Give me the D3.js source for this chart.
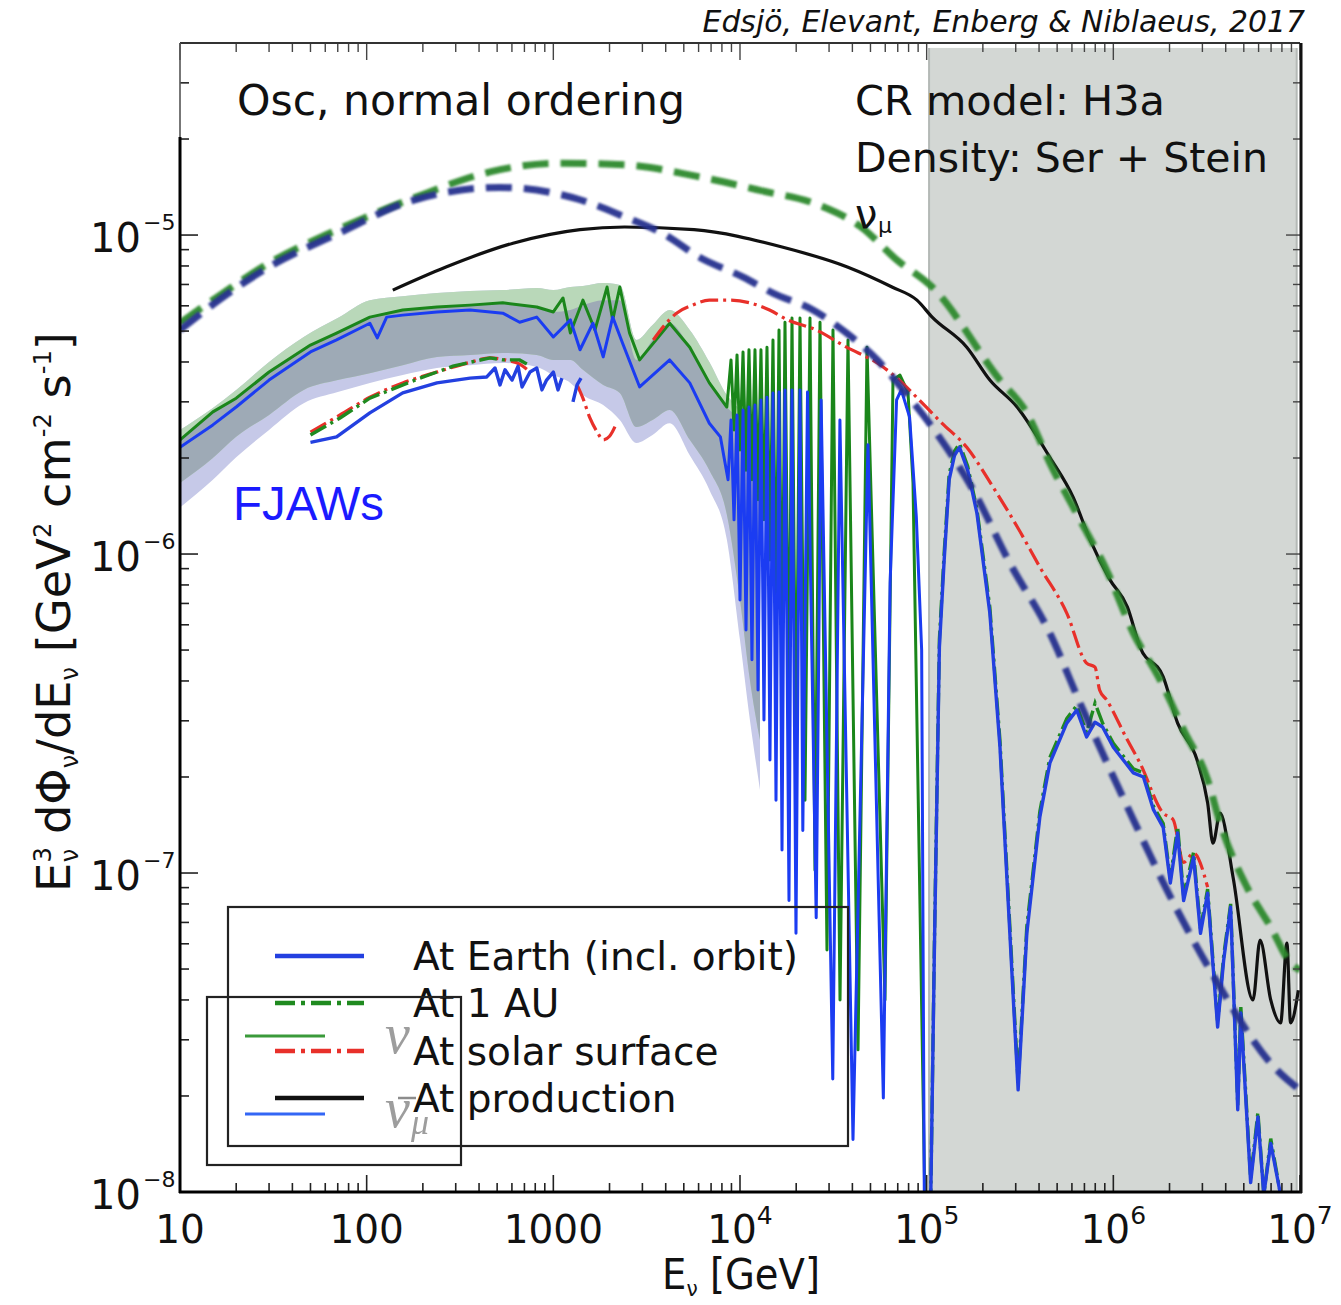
<!DOCTYPE html>
<html><head><meta charset="utf-8">
<script src="https://cdn.jsdelivr.net/npm/d3@7"></script>
<style>body{margin:0;background:#fff}svg{display:block}</style>
</head><body>
<svg id="chart" width="1341" height="1305"></svg>
<script>
// ---------------- DATA (E in GeV, flux E^3 dPhi/dE in GeV^2 cm^-2 s^-1) ----------------
// Reference production curves (thick dashed): nu_mu (green) and nu_mu-bar (navy)
const refNuMuE = [10, 17, 30, 70, 181, 464, 1060, 2410, 5810, 1.28e4, 2.66e4, 4.45e4, 6.93e4, 1.07e5, 2.47e5, 3.44e5, 4.57e5, 6.63e5, 9.2e5, 1.28e6, 1.78e6, 2.38e6, 3.2e6, 3.73e6, 5.2e6, 6.97e6, 8.9e6, 1e7];
const refNuMuF = [5.3e-6, 6.58e-6, 8.17e-6, 1.04e-5, 1.31e-5, 1.58e-5, 1.68e-5, 1.66e-5, 1.53e-5, 1.38e-5, 1.24e-5, 1.06e-5, 8.35e-6, 6.87e-6, 3.51e-6, 2.77e-6, 1.93e-6, 1.28e-6, 8.9e-7, 5.65e-7, 4.03e-7, 2.81e-7, 1.96e-7, 1.435e-7, 9.03e-8, 6.77e-8, 5.22e-8, 4.96e-8];
const refNuMuBarE = [10, 17, 30, 70, 181, 518, 1390, 2410, 3870, 6060, 1.04e4, 1.5e4, 2.46e4, 3.72e4, 5.44e4, 7.47e4, 1.07e5, 1.77e5, 2.79e5, 4.57e5, 6.63e5, 1.28e6, 1.94e6, 3.3e6, 7.53e6, 1e7];
const refNuMuBarF = [5.04e-6, 6.39e-6, 7.94e-6, 1.01e-5, 1.29e-5, 1.41e-5, 1.29e-5, 1.14e-5, 1.01e-5, 8.52e-6, 7.38e-6, 6.58e-6, 5.82e-6, 4.93e-6, 4.06e-6, 3.27e-6, 2.5e-6, 1.59e-6, 9.36e-7, 5.65e-7, 3.41e-7, 1.47e-7, 8.83e-8, 4.96e-8, 2.41e-8, 2.09e-8];

// At production (black)
const prodE = [138, 266, 608, 1390, 2410, 5670, 1.68e4, 3.76e4, 6.52e4, 8.87e4, 1.07e5, 1.64e5, 2.18e5, 3.05e5, 4.57e5, 6.08e5, 7.5e5, 9.6e5, 1.19e6, 1.39e6, 1.85e6, 2.21e6, 2.81e6, 3.2e6, 3.42e6, 3.73e6, 4.38e6, 5.6e6, 6.11e6, 6.97e6, 7.87e6, 8.51e6, 8.9e6, 9.8e6];
const prodF = [6.72e-6, 7.94e-6, 9.43e-6, 1.04e-5, 1.06e-5, 1.04e-5, 9.17e-6, 7.94e-6, 6.87e-6, 6.25e-6, 5.53e-6, 4.45e-6, 3.51e-6, 2.89e-6, 2.01e-6, 1.51e-6, 1.11e-6, 8.3e-7, 6.82e-7, 5.11e-7, 4.12e-7, 2.95e-7, 2.26e-7, 1.66e-7, 1.24e-7, 1.54e-7, 9.7e-8, 4.0e-8, 6.16e-8, 4.0e-8, 3.39e-8, 6.03e-8, 3.39e-8, 4.29e-8];

// At solar surface (red dash-dot); null = hidden
const surfE = [50, 72, 104, 156, 238, 358, 458, 551, 660, 750, 1000, 1340, 1440, 1570, 1720, 1850, 2000, 2180, 2800, 3430, 3950, 4570, 5560, 6850, 8830, 1.13e4, 1.44e4, 1.8e4, 2.56e4, 3.72e4, 5.44e4, 7.14e4, 9.12e4, 1.21e5, 1.64e5, 2.27e5, 3.05e5, 4.04e5, 5.63e5, 7.19e5, 7.98e5, 8.44e5, 9.2e5, 1.19e6, 1.39e6, 1.85e6, 2.09e6, 2.38e6, 2.69e6, 3.2e6];
const surfF = [2.41e-6, 2.73e-6, 3.10e-6, 3.44e-6, 3.72e-6, 3.99e-6, 4.12e-6, 4.06e-6, 3.94e-6, 3.72e-6, null, 3.39e-6, 3.08e-6, 2.67e-6, 2.41e-6, 2.28e-6, 2.34e-6, 2.57e-6, null, 4.69e-6, 5.22e-6, 5.69e-6, 6.03e-6, 6.25e-6, 6.25e-6, 6.13e-6, 5.82e-6, 5.42e-6, 5.04e-6, 4.45e-6, 3.97e-6, 3.51e-6, 3.04e-6, 2.57e-6, 2.16e-6, 1.62e-6, 1.22e-6, 9.1e-7, 6.53e-7, 4.55e-7, 4.42e-7, 3.75e-7, 3.49e-7, 2.61e-7, 2.21e-7, 1.54e-7, 1.47e-7, 1.08e-7, 1.155e-7, 9.03e-8];

// At 1 AU (green dash-dot)
const auE = [50, 72, 104, 193, 290, 358, 458, 536, 660, 723, 5e4, 1.05e5, 1.1e5, 1.17e5, 1.24e5, 1.32e5, 1.41e5, 1.5e5, 1.66e5, 1.86e5, 2.18e5, 2.47e5, 2.79e5, 3.09e5, 3.44e5, 4.04e5, 4.57e5, 5.63e5, 6.37e5, 7.19e5, 7.98e5, 8.76e5, 1e6, 1.28e6, 1.45e6, 1.64e6, 1.85e6, 2.02e6, 2.21e6, 2.38e6, 2.69e6, 2.93e6, 3.2e6, 3.62e6, 3.9e6, 4.25e6, 4.64e6, 4.82e6, 5.44e6, 5.95e6, 6.4e6, 6.97e6, 7.87e6];
const auF = [2.36e-6, 2.67e-6, 3.08e-6, 3.56e-6, 3.88e-6, 3.99e-6, 4.12e-6, 4.06e-6, 4.06e-6, 3.94e-6, null, 9e-9, 6.0e-8, 5.4e-7, 1.0e-6, 1.78e-6, 2.1e-6, 2.22e-6, 1.88e-6, 1.38e-6, 6.8e-7, 2.6e-7, 6.8e-8, 2.2e-8, 6.8e-8, 1.56e-7, 2.3e-7, 3.05e-7, 3.35e-7, 2.75e-7, 3.41e-7, 2.95e-7, 2.55e-7, 2.12e-7, 2.06e-7, 1.62e-7, 1.43e-7, 9.6e-8, 1.4e-7, 8.5e-8, 1.16e-7, 6.7e-8, 8.9e-8, 3.4e-8, 5.5e-8, 8.0e-8, 1.87e-8, 3.8e-8, 1.1e-8, 1.78e-8, 9.8e-9, 1.47e-8, 9.8e-9];

// At Earth incl. orbit (blue solid)
const earthE = [50, 69, 104, 156, 238, 358, 440, 487, 518, 551, 601, 647, 680, 750, 815, 869, 920, 1000, 1059, 1112, 1200, 1274, 1340, 1407, 5e4, 1.05e5, 1.1e5, 1.17e5, 1.24e5, 1.32e5, 1.41e5, 1.5e5, 1.66e5, 1.86e5, 2.18e5, 2.47e5, 2.79e5, 3.09e5, 3.44e5, 4.04e5, 4.57e5, 5.63e5, 6.37e5, 7.19e5, 7.98e5, 8.76e5, 1e6, 1.28e6, 1.45e6, 1.64e6, 1.85e6, 2.02e6, 2.21e6, 2.38e6, 2.69e6, 2.93e6, 3.2e6, 3.62e6, 3.9e6, 4.25e6, 4.64e6, 4.82e6, 5.44e6, 5.95e6, 6.4e6, 6.97e6, 7.87e6];
const earthF = [2.24e-6, 2.33e-6, 2.77e-6, 3.2e-6, 3.44e-6, 3.56e-6, 3.59e-6, 3.83e-6, 3.39e-6, 3.78e-6, 3.51e-6, 3.88e-6, 3.34e-6, 3.72e-6, 3.83e-6, 3.27e-6, 3.51e-6, 3.72e-6, 3.27e-6, 3.56e-6, null, 3.0e-6, 3.39e-6, 3.56e-6, null, 9e-9, 5.74e-8, 5.11e-7, 9.5e-7, 1.71e-6, 2.04e-6, 2.16e-6, 1.83e-6, 1.34e-6, 6.53e-7, 2.48e-7, 6.47e-8, 2.09e-8, 6.47e-8, 1.5e-7, 2.21e-7, 2.95e-7, 3.24e-7, 2.67e-7, 2.97e-7, 2.87e-7, 2.48e-7, 2.06e-7, 2.0e-7, 1.58e-7, 1.39e-7, 9.3e-8, 1.335e-7, 8.2e-8, 1.12e-7, 6.47e-8, 8.65e-8, 3.29e-8, 5.33e-8, 7.82e-8, 1.81e-8, 3.64e-8, 1.07e-8, 1.72e-8, 9.8e-9, 1.42e-8, 9.8e-9];

// FJAWs: nu_mu (green) and nu_mu-bar (blue) at Earth
const fjNuE = [10, 15, 20, 30, 50, 69, 104, 156, 238, 358, 536, 815, 1000, 1127, 1234, 1440, 1672, 1940, 2080, 2270, 2560, 2900, 4200, 5380, 6850, 8500, 8950, 9290, 9640, 1.0e4, 1.038e4, 1.077e4, 1.117e4, 1.159e4, 1.203e4, 1.249e4, 1.295e4, 1.344e4, 1.395e4, 1.447e4, 1.502e4, 1.559e4, 1.618e4, 1.679e4, 1.742e4, 1.83e4, 1.899e4, 1.995e4, 2.096e4, 2.229e4, 2.371e4, 2.522e4, 2.683e4, 2.924e4, 3.149e4, 3.434e4, 3.789e4, 4.287e4, 4.79e4, 5.98e4, 6.6e4, 7.195e4, 7.94e4, 8.45e4, 9.79e4];
const fjNuF = [2.28e-6, 2.79e-6, 3.08e-6, 3.72e-6, 4.52e-6, 4.93e-6, 5.53e-6, 5.82e-6, 5.95e-6, 6.03e-6, 6.13e-6, 5.95e-6, 5.74e-6, 6.35e-6, 4.93e-6, 6.25e-6, 5.04e-6, 6.87e-6, 5.42e-6, 6.87e-6, 4.93e-6, 4.06e-6, 5.29e-6, 4.45e-6, 3.44e-6, 2.89e-6, 4.06e-6, 2.45e-6, 4.21e-6, 2.12e-6, 4.3e-6, 1.83e-6, 4.37e-6, 1.71e-6, 4.37e-6, 1.48e-6, 4.37e-6, 1.28e-6, 4.45e-6, 9.58e-7, 4.69e-6, 6.2e-7, 5.04e-6, 4.03e-7, 5.33e-6, 3.02e-7, 5.49e-6, 2.26e-7, 5.49e-6, 1.69e-7, 5.49e-6, 1.02e-7, 5.33e-6, 5.74e-8, 5.04e-6, 4.0e-8, 4.69e-6, 2.79e-8, 4.45e-6, 4.0e-8, 3.51e-6, 3.64e-6, 3.22e-6, 1.67e-6, 9e-9];
const fjNuBarE = [10, 15, 20, 30, 50, 69, 104, 114, 128, 156, 238, 358, 536, 660, 815, 1000, 1234, 1390, 1630, 1850, 2080, 2350, 2900, 4200, 5380, 6850, 7850, 8630, 8950, 9290, 9640, 1.0e4, 1.038e4, 1.077e4, 1.117e4, 1.159e4, 1.203e4, 1.249e4, 1.295e4, 1.344e4, 1.395e4, 1.447e4, 1.502e4, 1.559e4, 1.618e4, 1.679e4, 1.742e4, 1.83e4, 1.899e4, 1.995e4, 2.096e4, 2.17e4, 2.3e4, 2.56e4, 2.72e4, 3.14e4, 3.43e4, 4.03e4, 4.85e4, 5.86e4, 6.37e4, 6.9e4, 7.31e4, 8.1e4, 8.8e4, 9.4e4, 9.72e4];
const fjNuBarF = [2.16e-6, 2.54e-6, 2.89e-6, 3.51e-6, 4.3e-6, 4.69e-6, 5.29e-6, 4.76e-6, 5.53e-6, 5.61e-6, 5.74e-6, 5.82e-6, 5.69e-6, 5.33e-6, 5.53e-6, 4.79e-6, 5.42e-6, 4.37e-6, 5.29e-6, 4.15e-6, 5.53e-6, 4.58e-6, 3.34e-6, 4.06e-6, 3.44e-6, 2.57e-6, 2.33e-6, 1.71e-6, 2.63e-6, 1.28e-6, 2.73e-6, 7.18e-7, 2.83e-6, 5.78e-7, 2.89e-6, 4.66e-7, 2.93e-6, 3.75e-7, 3.04e-6, 3.02e-7, 3.10e-6, 2.26e-7, 3.2e-6, 1.69e-7, 3.22e-6, 1.18e-7, 3.27e-6, 8.2e-8, 3.27e-6, 6.47e-8, 3.27e-6, 1.36e-7, 3.22e-6, 7.24e-8, 3.04e-6, 2.26e-8, 2.63e-6, 1.46e-8, 2.2e-6, 1.97e-8, 8.11e-7, 3.04e-6, 3.27e-6, 2.69e-6, 1.31e-6, 5.0e-7, 9e-9];

// FJAWs uncertainty bands
const bandE = [10, 15, 20, 30, 46, 70, 104, 156, 238, 358, 536, 815, 1000, 1234, 1440, 1850, 2270, 2790, 3400, 4200, 5380, 6850, 8500, 1.0e4, 1.13e4, 1.28e4];
const bandTop = [2.45e-6, 2.87e-6, 3.27e-6, 4.0e-6, 4.79e-6, 5.49e-6, 6.25e-6, 6.43e-6, 6.58e-6, 6.68e-6, 6.72e-6, 6.82e-6, 6.72e-6, 6.87e-6, 6.92e-6, 7.07e-6, 6.97e-6, 4.69e-6, 5.22e-6, 5.82e-6, 5.04e-6, 4.0e-6, 3.15e-6, 2.83e-6, 2.63e-6, 2.45e-6];
const bandGreyTop = [2.28e-6, 2.79e-6, 3.08e-6, 3.72e-6, 4.37e-6, 4.93e-6, 5.53e-6, 5.82e-6, 5.95e-6, 6.03e-6, 6.13e-6, 5.95e-6, 5.74e-6, 5.82e-6, 6.03e-6, 6.25e-6, 6.25e-6, 4.06e-6, 4.69e-6, 5.29e-6, 4.45e-6, 3.44e-6, 2.89e-6, 2.63e-6, 2.45e-6, 2.28e-6];
const bandGreyBot = [1.67e-6, 2.0e-6, 2.33e-6, 2.73e-6, 3.27e-6, 3.51e-6, 3.69e-6, 3.91e-6, 4.15e-6, 4.21e-6, 4.27e-6, 4.21e-6, 4.06e-6, 4.06e-6, 3.78e-6, 3.39e-6, 3.2e-6, 2.5e-6, 2.63e-6, 2.83e-6, 2.28e-6, 1.83e-6, 1.33e-6, 7.18e-7, 4.03e-7, 2.61e-7];
const bandLavBot = [1.40e-6, 1.71e-6, 2.01e-6, 2.45e-6, 2.97e-6, 3.22e-6, 3.44e-6, 3.64e-6, 3.83e-6, 3.91e-6, 3.97e-6, 3.86e-6, 3.64e-6, 3.44e-6, 3.15e-6, 2.93e-6, 2.63e-6, 2.23e-6, 2.36e-6, 2.57e-6, 2.04e-6, 1.59e-6, 1.11e-6, 5.38e-7, 3.02e-7, 1.82e-7];

// Shaded (grey) energy region and its vertical extent
const shadeE = [1.03e5, 9.6e6];
const shadeF = [1e-8, 3.86e-5];

// Axis ticks and labels
const xMajor = [10, 100, 1000, 1e4, 1e5, 1e6, 1e7];
const xTickLabels = ["10", "100", "1000", "10|4", "10|5", "10|6", "10|7"];
const yMajor = [1e-8, 1e-7, 1e-6, 1e-5];
const yTickLabels = ["10|\u22128", "10|\u22127", "10|\u22126", "10|\u22125"];

// Legend
const legendLabels = ["At Earth (incl. orbit)", "At 1 AU", "At solar surface", "At production"];

// ---------------- DRAWING ----------------
const svg = d3.select('#chart');
const FONT = "'DejaVu Sans', 'Lucida Grande', Verdana, sans-serif";
const x = d3.scaleLog().domain([10, 1e7]).range([180, 1300]);
const y = d3.scaleLog().domain([1e-8, 4e-5]).range([1192, 43]);
const pts = (E, F) => E.map((e, i) => ({ e, f: F[i] }));

const defs = svg.append('defs');
defs.append('clipPath').attr('id', 'clip').append('rect')
  .attr('x', 180).attr('y', 43).attr('width', 1120).attr('height', 1149);
defs.append('filter').attr('id', 'soft').attr('x', '-5%').attr('y', '-5%').attr('width', '110%').attr('height', '110%')
  .append('feGaussianBlur').attr('stdDeviation', 1.0);

const lineLin = d3.line().defined(d => d.f != null).x(d => x(d.e)).y(d => y(d.f));
const lineSm = d3.line().defined(d => d.f != null).curve(d3.curveMonotoneX).x(d => x(d.e)).y(d => y(d.f));

const plot = svg.append('g').attr('clip-path', 'url(#clip)');

// shaded region
plot.append('rect')
  .attr('x', x(shadeE[0])).attr('width', x(shadeE[1]) - x(shadeE[0]))
  .attr('y', y(shadeF[1])).attr('height', y(shadeF[0]) - y(shadeF[1]))
  .attr('fill', '#d3d7d4');
plot.append('line').attr('x1', x(shadeE[0])).attr('x2', x(shadeE[0]))
  .attr('y1', y(shadeF[1])).attr('y2', y(shadeF[0])).attr('stroke', '#b4b9b6').attr('stroke-width', 2);
plot.append('line').attr('x1', x(shadeE[1])).attr('x2', x(shadeE[1]))
  .attr('y1', y(shadeF[1])).attr('y2', y(shadeF[0])).attr('stroke', '#b4b9b6').attr('stroke-width', 2);

// bands
const band = bandE.map((e, i) => ({ e, top: bandTop[i], gt: bandGreyTop[i], gb: bandGreyBot[i], lb: bandLavBot[i] }));
const area = (hi, lo) => d3.area().curve(d3.curveMonotoneX).x(d => x(d.e)).y0(d => y(d[lo])).y1(d => y(d[hi]));
plot.append('path').datum(band).attr('d', area('top', 'lb')).attr('fill', '#c6c9e8');
plot.append('path').datum(band).attr('d', area('top', 'gb')).attr('fill', '#b9d8b9');
plot.append('path').datum(band).attr('d', area('gt', 'gb')).attr('fill', '#9eaab6');

// FJAWs lines
plot.append('path').datum(pts(fjNuE, fjNuF)).attr('d', lineLin)
  .attr('fill', 'none').attr('stroke', '#1a861a').attr('stroke-width', 3).attr('stroke-linejoin', 'round');
plot.append('path').datum(pts(fjNuBarE, fjNuBarF)).attr('d', lineLin)
  .attr('fill', 'none').attr('stroke', '#1b3cf2').attr('stroke-width', 3).attr('stroke-linejoin', 'round');

// Edsjo et al curves
plot.append('path').datum(pts(prodE, prodF)).attr('d', lineSm)
  .attr('fill', 'none').attr('stroke', '#111').attr('stroke-width', 3.2);
plot.append('path').datum(pts(surfE, surfF)).attr('d', lineSm)
  .attr('fill', 'none').attr('stroke', '#e8302a').attr('stroke-width', 3.2).attr('stroke-dasharray', '18,5,3,5');
plot.append('path').datum(pts(auE, auF)).attr('d', lineLin)
  .attr('fill', 'none').attr('stroke', '#1f8a1f').attr('stroke-width', 3.4).attr('stroke-dasharray', '18,5,3,5');
plot.append('path').datum(pts(earthE, earthF)).attr('d', lineLin)
  .attr('fill', 'none').attr('stroke', '#2340e0').attr('stroke-width', 3.4).attr('stroke-linejoin', 'round');

// reference dashed curves
plot.append('path').datum(pts(refNuMuE, refNuMuF)).attr('d', lineSm)
  .attr('fill', 'none').attr('stroke', '#2f8a2f').attr('stroke-width', 7).attr('stroke-dasharray', '26,12')
  .attr('opacity', 0.95).attr('filter', 'url(#soft)');
plot.append('path').datum(pts(refNuMuBarE, refNuMuBarF)).attr('d', lineSm)
  .attr('fill', 'none').attr('stroke', '#28338f').attr('stroke-width', 7).attr('stroke-dasharray', '26,12')
  .attr('opacity', 0.95).attr('filter', 'url(#soft)');

// ---------------- AXES / FRAME ----------------
const isMajor = v => Math.abs(Math.log10(v) - Math.round(Math.log10(v))) < 1e-9;
const ax = svg.append('g');
x.ticks().forEach(v => {
  const L = isMajor(v) ? 17 : 9;
  ax.append('line').attr('x1', x(v)).attr('x2', x(v)).attr('y1', 1192).attr('y2', 1192 - L).attr('stroke', '#222').attr('stroke-width', 1.6);
  ax.append('line').attr('x1', x(v)).attr('x2', x(v)).attr('y1', 43).attr('y2', 43 + L).attr('stroke', '#444').attr('stroke-width', 1.4);
});
y.ticks().forEach(v => {
  const L = isMajor(v) ? 18 : 9;
  ax.append('line').attr('x1', 180).attr('x2', 180 + L).attr('y1', y(v)).attr('y2', y(v)).attr('stroke', '#222').attr('stroke-width', 1.6);
  ax.append('line').attr('x1', 1300).attr('x2', 1300 - (isMajor(v) ? 14 : 7)).attr('y1', y(v)).attr('y2', y(v)).attr('stroke', '#444').attr('stroke-width', 1.4);
});
ax.append('line').attr('x1', 180).attr('x2', 1300).attr('y1', 43).attr('y2', 43).attr('stroke', '#333').attr('stroke-width', 2);
ax.append('line').attr('x1', 180).attr('x2', 180).attr('y1', 43).attr('y2', 137).attr('stroke', '#555').attr('stroke-width', 1.6);
ax.append('line').attr('x1', 180).attr('x2', 180).attr('y1', 137).attr('y2', 1193).attr('stroke', '#000').attr('stroke-width', 3);
ax.append('line').attr('x1', 179).attr('x2', 1302).attr('y1', 1192).attr('y2', 1192).attr('stroke', '#000').attr('stroke-width', 3);
ax.append('line').attr('x1', 1301).attr('x2', 1301).attr('y1', 43).attr('y2', 1193).attr('stroke', '#111').attr('stroke-width', 3);

// x tick labels
xMajor.forEach((v, i) => {
  const [b, s] = xTickLabels[i].split('|');
  const t = ax.append('text').attr('x', x(v)).attr('y', 1243).attr('text-anchor', 'middle')
    .attr('font-family', FONT).attr('font-size', 39).attr('fill', '#111');
  t.append('tspan').text(b);
  if (s) t.append('tspan').attr('font-size', 25).attr('dy', -19).text(s);
});
// y tick labels
yMajor.forEach((v, i) => {
  const [b, s] = yTickLabels[i].split('|');
  ax.append('text').attr('x', 141).attr('y', y(v) + 17).attr('text-anchor', 'end')
    .attr('font-family', FONT).attr('font-size', 40).attr('fill', '#111').text(b);
  ax.append('text').attr('x', 143).attr('y', y(v) - 5).attr('text-anchor', 'start')
    .attr('font-family', FONT).attr('font-size', 22).attr('fill', '#111').text(s);
});

// axis titles
function scaleToWidth(t, target) {
  const w = t.node().getBBox().width;
  t.attr('transform', `scale(${target / w},1)`);
}
{
  const g = svg.append('g').attr('transform', 'translate(741,1289)');
  const t = g.append('text').attr('text-anchor', 'middle').attr('font-family', FONT).attr('font-size', 42).attr('fill', '#111');
  t.append('tspan').text('E');
  t.append('tspan').attr('font-size', 22).attr('dy', 7).text('\u03bd');
  t.append('tspan').attr('dy', -7).text(' [GeV]');
  scaleToWidth(t, 158);
}
{
  const g = svg.append('g').attr('transform', 'translate(70,612) rotate(-90)');
  const t = g.append('text').attr('text-anchor', 'middle').attr('font-family', FONT).attr('font-size', 46).attr('fill', '#111');
  t.append('tspan').text('E');
  t.append('tspan').attr('font-size', 24).attr('dy', -19).text('3');
  t.append('tspan').attr('font-size', 24).attr('dx', -15).attr('dy', 27).text('\u03bd');
  t.append('tspan').attr('dy', -8).text(' d\u03a6');
  t.append('tspan').attr('font-size', 24).attr('dy', 8).text('\u03bd');
  t.append('tspan').attr('dy', -8).text('/dE');
  t.append('tspan').attr('font-size', 24).attr('dy', 8).text('\u03bd');
  t.append('tspan').attr('dy', -8).text(' [GeV');
  t.append('tspan').attr('font-size', 24).attr('dy', -19).text('2');
  t.append('tspan').attr('dy', 19).text(' cm');
  t.append('tspan').attr('font-size', 24).attr('dy', -19).text('-2');
  t.append('tspan').attr('dy', 19).text(' s');
  t.append('tspan').attr('font-size', 24).attr('dy', -19).text('-1');
  t.append('tspan').attr('dy', 19).text(']');
  scaleToWidth(t, 560);
}
// credit
{
  const g = svg.append('g').attr('transform', 'translate(1305,32)');
  const t = g.append('text').attr('text-anchor', 'end').attr('font-family', FONT).attr('font-style', 'italic')
    .attr('font-size', 31).attr('fill', '#111').text('Edsj\u00f6, Elevant, Enberg & Niblaeus, 2017');
  scaleToWidth(t, 603);
}

function fitFont(t, target) {
  const w = t.node().getComputedTextLength();
  t.attr('font-size', parseFloat(t.attr('font-size')) * target / w);
}
const ann = svg.append('g');
fitFont(ann.append('text').attr('x', 237).attr('y', 115).attr('font-family', FONT).attr('font-size', 42).attr('fill', '#111').text('Osc, normal ordering'), 448);
fitFont(ann.append('text').attr('x', 855).attr('y', 115).attr('font-family', FONT).attr('font-size', 42).attr('fill', '#111').text('CR model: H3a'), 310);
fitFont(ann.append('text').attr('x', 855).attr('y', 172).attr('font-family', FONT).attr('font-size', 42).attr('fill', '#111').text('Density: Ser + Stein'), 413);
ann.append('text').attr('x', 855).attr('y', 228).attr('font-family', FONT).attr('font-size', 40).attr('fill', '#111').text('\u03bd');
ann.append('text').attr('x', 878).attr('y', 233).attr('font-family', FONT).attr('font-size', 22).attr('fill', '#111').text('\u03bc');
fitFont(ann.append('text').attr('x', 233).attr('y', 520).attr('font-family', "'Liberation Sans', Arial, sans-serif").attr('font-size', 48).attr('fill', '#1a1aff').text('FJAWs'), 151);

// legend 1
const leg = svg.append('g');
leg.append('rect').attr('x', 228).attr('y', 907).attr('width', 620).attr('height', 239)
  .attr('fill', 'none').attr('stroke', '#222').attr('stroke-width', 2.2);
const legY = [956, 1003, 1051, 1098];
const legStyle = [
  { c: '#2340e0', d: null },
  { c: '#1f8a1f', d: '20,6,4,6' },
  { c: '#e8302a', d: '20,6,4,6' },
  { c: '#111', d: null }
];
legendLabels.forEach((lab, i) => {
  leg.append('line').attr('x1', 275).attr('x2', 364).attr('y1', legY[i]).attr('y2', legY[i])
    .attr('stroke', legStyle[i].c).attr('stroke-width', 4.5).attr('stroke-dasharray', legStyle[i].d);
});
const legTexts = legendLabels.map((lab, i) => leg.append('text').attr('x', 413).attr('y', legY[i] + 14)
  .attr('font-family', FONT).attr('font-size', 39).attr('fill', '#111').text(lab));
fitFont(legTexts[0], 385);
legTexts.forEach(t => t.attr('font-size', legTexts[0].attr('font-size')));

// legend 2 (overlay)
leg.append('rect').attr('x', 207).attr('y', 997).attr('width', 254).attr('height', 168)
  .attr('fill', 'none').attr('stroke', '#222').attr('stroke-width', 2.2);
leg.append('line').attr('x1', 245).attr('x2', 325).attr('y1', 1036).attr('y2', 1036).attr('stroke', '#3a9a3a').attr('stroke-width', 3);
leg.append('line').attr('x1', 245).attr('x2', 325).attr('y1', 1114).attr('y2', 1114).attr('stroke', '#3366f5').attr('stroke-width', 3);
const SER = "'Liberation Serif', 'DejaVu Serif', serif";
leg.append('text').attr('x', 385).attr('y', 1053).attr('font-family', SER).attr('font-style', 'italic').attr('font-size', 56).attr('fill', '#8c8c8c').attr('opacity', 0.85).text('\u03bd');
leg.append('text').attr('x', 385).attr('y', 1127).attr('font-family', SER).attr('font-style', 'italic').attr('font-size', 56).attr('fill', '#8c8c8c').attr('opacity', 0.85).text('\u03bd');
leg.append('line').attr('x1', 398).attr('x2', 416).attr('y1', 1098).attr('y2', 1098).attr('stroke', '#8c8c8c').attr('stroke-width', 2.5);
leg.append('text').attr('x', 411).attr('y', 1134).attr('font-family', SER).attr('font-style', 'italic').attr('font-size', 36).attr('fill', '#8c8c8c').attr('opacity', 0.85).text('\u03bc');
</script>
</body></html>
